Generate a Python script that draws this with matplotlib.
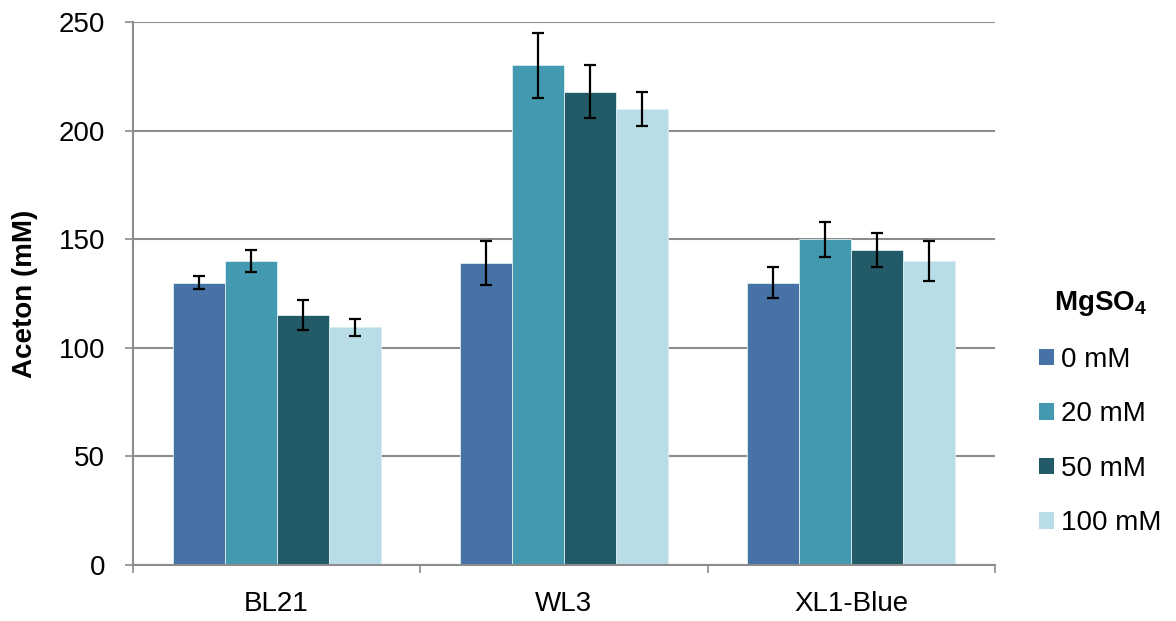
import numpy as np
import matplotlib
matplotlib.use("Agg")
import matplotlib.pyplot as plt
from matplotlib.patches import Patch

plt.rcParams["font.family"] = ["Liberation Sans", "DejaVu Sans"]
plt.rcParams["font.size"] = 20
plt.rcParams["mathtext.fontset"] = "custom"
plt.rcParams["mathtext.rm"] = "Liberation Sans"
plt.rcParams["mathtext.bf"] = "Liberation Sans:bold"

strains = ["BL21", "WL3", "XL1-Blue"]
conc_labels = ["0 mM", "20 mM", "50 mM", "100 mM"]
aceton = [
    [130, 139, 130],      # 0 mM
    [140, 230, 150],      # 20 mM
    [115, 218, 145],      # 50 mM
    [109.5, 210, 140],    # 100 mM
]
aceton_err = [
    [3, 10, 7],
    [5, 15, 8],
    [7, 12, 8],
    [4, 8, 9],
]
colors = ["#4672A5", "#4399AF", "#225A68", "#B8DDE6"]

fig = plt.figure(figsize=(11.76, 6.21), dpi=100)
ax = fig.add_axes([0.113, 0.090, 0.733, 0.8746])

x = np.arange(len(strains))
w = 0.181
for i in range(len(conc_labels)):
    pos = x + (i - 1.5) * w
    ax.bar(pos, aceton[i], w, color=colors[i], edgecolor="#DDEEF2",
           linewidth=0.6, zorder=2)
    ax.errorbar(pos, aceton[i], yerr=aceton_err[i], fmt="none",
                ecolor="black", elinewidth=1.6, capsize=4.2, capthick=1.6,
                zorder=3)

ax.set_xlim(-0.5, 2.5)
ax.set_ylim(0, 250)
ax.set_yticks(np.arange(0, 251, 50))
ax.yaxis.grid(True, color="#8C8C8C", linewidth=1.5, zorder=0)
ax.set_axisbelow(True)

ax.set_xticks(x)
ax.set_xticklabels(strains)
ax.set_xticks(np.arange(-0.5, 3, 1), minor=True)
ax.tick_params(axis="x", which="major", length=0, pad=19)
ax.tick_params(axis="x", which="minor", length=6, width=1.2, color="#8C8C8C")
ax.tick_params(axis="y", length=6, width=1.2, color="#8C8C8C", pad=14)

for s in ["top", "right"]:
    ax.spines[s].set_visible(False)
for s in ["left", "bottom"]:
    ax.spines[s].set_color("#8C8C8C")
    ax.spines[s].set_linewidth(1.5)

ax.set_ylabel("Aceton (mM)", fontweight="bold", labelpad=15)

handles = [Patch(facecolor=c, edgecolor="none") for c in colors]
leg = fig.legend(handles, conc_labels, title=r"MgSO$_\mathbf{4}$",
                 loc="upper left", bbox_to_anchor=(1039 / 1176, 1 - 289 / 621),
                 frameon=False, borderpad=0, borderaxespad=0,
                 handlelength=0.54, handleheight=0.54, handletextpad=0.25,
                 labelspacing=1.03, fontsize=20)
leg.get_title().set_fontweight("bold")
leg.get_title().set_fontsize(20)

fig.savefig("out.png", dpi=100)
